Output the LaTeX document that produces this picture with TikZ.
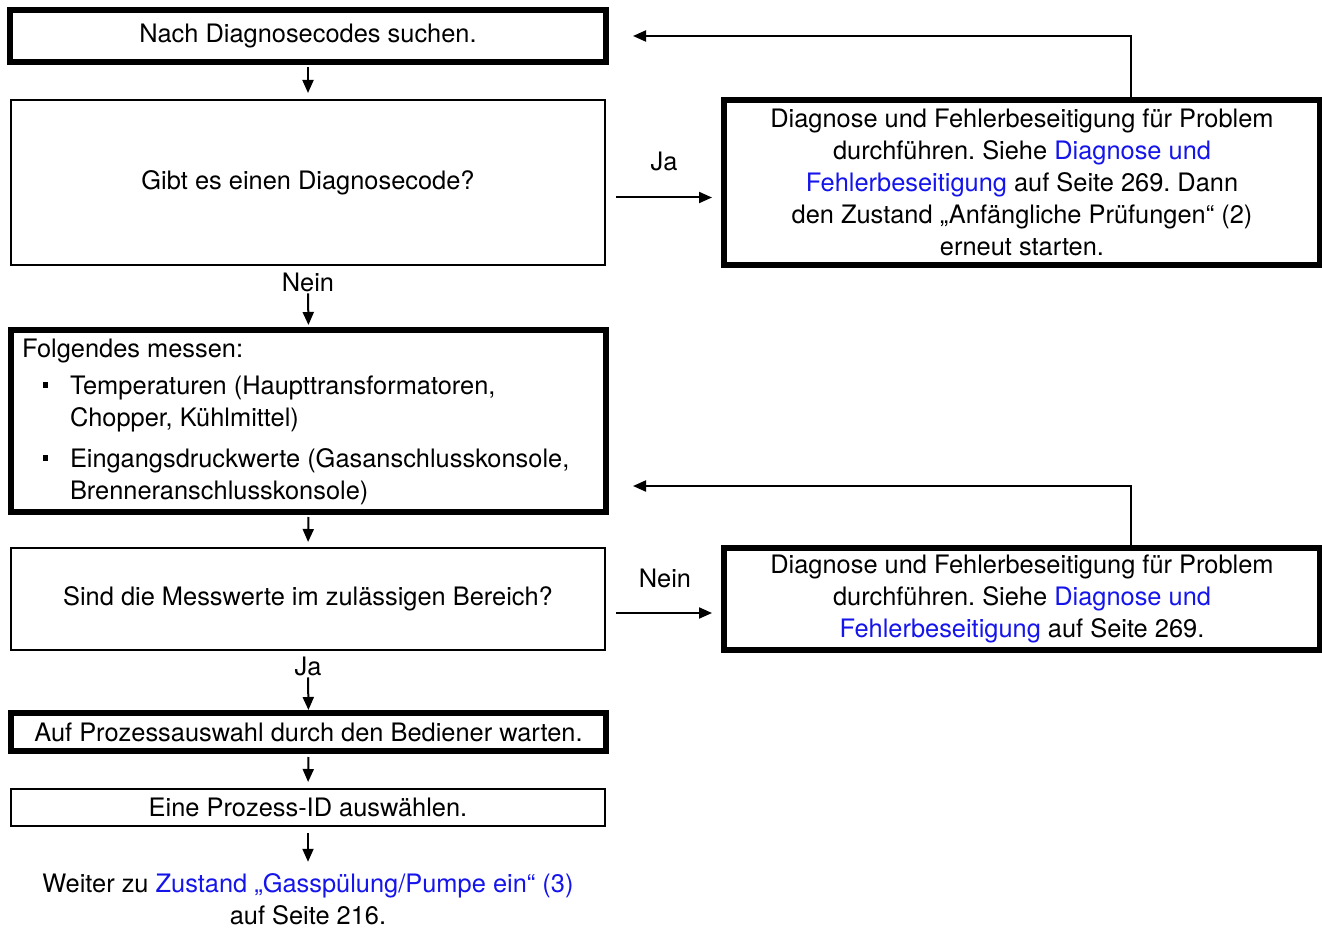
\documentclass[tikz,border=0pt]{standalone}
\usepackage{fontspec}
\setmainfont{TeX Gyre Heros}
\usetikzlibrary{arrows.meta}
\definecolor{lnk}{RGB}{20,20,235}
\newcommand{\lk}[1]{\textcolor{lnk}{#1}}
\frenchspacing
\begin{document}
\begin{tikzpicture}[x=1pt,y=1pt,
  font=\fontsize{25.4}{32}\selectfont,
  thickbox/.style={draw, line width=5.5pt, inner sep=0pt, outer sep=0pt},
  thinbox/.style={draw, line width=1.5pt, inner sep=0pt, outer sep=0pt},
  txt/.style={inner sep=0pt, outer sep=0pt},
  arr/.style={line width=2pt, -{Triangle[length=13pt,width=11pt]}},
  bul/.style={fill, inner sep=0pt, minimum size=5.5pt}]
\useasboundingbox (0,0) rectangle (1322,-928);

% main column
\node[thickbox, minimum width=596pt, minimum height=52pt] (b1) at (308,-36) {Nach Diagnosecodes suchen.};
\node[thinbox, minimum width=594pt, minimum height=165pt] (b2) at (308,-182.5) {Gibt es einen Diagnosecode?};
\node[txt] (l1) at (308,-282) {Nein};
\node[thickbox, minimum width=595pt, minimum height=182pt] (b3) at (308.5,-421) {};
\node[txt, anchor=base west] (m0) at (22,-357) {Folgendes messen:};
\node[bul] (u1) at (45.5,-385) {};
\node[txt, anchor=base west] (m1) at (70,-394) {Temperaturen (Haupttransformatoren,};
\node[txt, anchor=base west] (m2) at (70,-426) {Chopper, Kühlmittel)};
\node[bul] (u2) at (45.5,-458) {};
\node[txt, anchor=base west] (m3) at (70,-467) {Eingangsdruckwerte (Gasanschlusskonsole,};
\node[txt, anchor=base west] (m4) at (70,-499) {Brenneranschlusskonsole)};
\node[thinbox, minimum width=594pt, minimum height=102pt] (b4) at (308,-599) {Sind die Messwerte im zulässigen Bereich?};
\node[txt] (l2) at (308,-666) {Ja};
\node[thickbox, minimum width=595pt, minimum height=38pt] (b5) at (308.5,-732) {Auf Prozessauswahl durch den Bediener warten.};
\node[thinbox, minimum width=594pt, minimum height=37pt] (b6) at (308,-807.5) {Eine Prozess-ID auswählen.};
\node[txt, align=center] (fin) at (308,-899.5) {Weiter zu \lk{Zustand „Gasspülung/Pumpe ein“ (3)}\\auf Seite 216.};

% right column
\node[thickbox, minimum width=596pt, minimum height=165pt, align=center] (r1) at (1022,-182.5)
  {Diagnose und Fehlerbeseitigung für Problem\\durchführen. Siehe \lk{Diagnose und}\\\lk{Fehlerbeseitigung} auf Seite 269. Dann\\den Zustand „Anfängliche Prüfungen“ (2)\\erneut starten.};
\node[thickbox, minimum width=596pt, minimum height=102pt, align=center] (r2) at (1022,-599)
  {Diagnose und Fehlerbeseitigung für Problem\\durchführen. Siehe \lk{Diagnose und}\\\lk{Fehlerbeseitigung} auf Seite 269.};
\node[txt] (l3) at (664,-161) {Ja};
\node[txt] (l4) at (665,-578) {Nein};
\coordinate (fx) at (1131,0);

% connectors
\draw[arr, shorten <=5pt, shorten >=7pt] (b1.south) -- (b2.north);
\draw[arr, shorten <=2pt, shorten >=5pt] (l1.south) -- (b3.north);
\draw[arr, shorten <=5pt, shorten >=6pt] (b3.south) -- (b4.north);
\draw[arr, shorten <=2pt, shorten >=3pt] (l2.south) -- (b5.north);
\draw[arr, shorten <=6pt, shorten >=7pt] (b5.south) -- (b6.north);
\draw[arr, shorten <=7pt, shorten >=12pt] (b6.south) -- (fin.north);
\draw[arr, shorten <=11pt, shorten >=12pt] ([yshift=-15pt]b2.east) -- ([yshift=-15pt]r1.west);
\draw[arr, shorten <=11pt, shorten >=12pt] ([yshift=-14pt]b4.east) -- ([yshift=-14pt]r2.west);
\draw[arr, shorten >=27pt] (fx |- r1.north) |- (b1.east);
\draw[arr, shorten >=27pt] (fx |- r2.north) |- ([yshift=-65pt]b3.east);
\end{tikzpicture}
\end{document}
